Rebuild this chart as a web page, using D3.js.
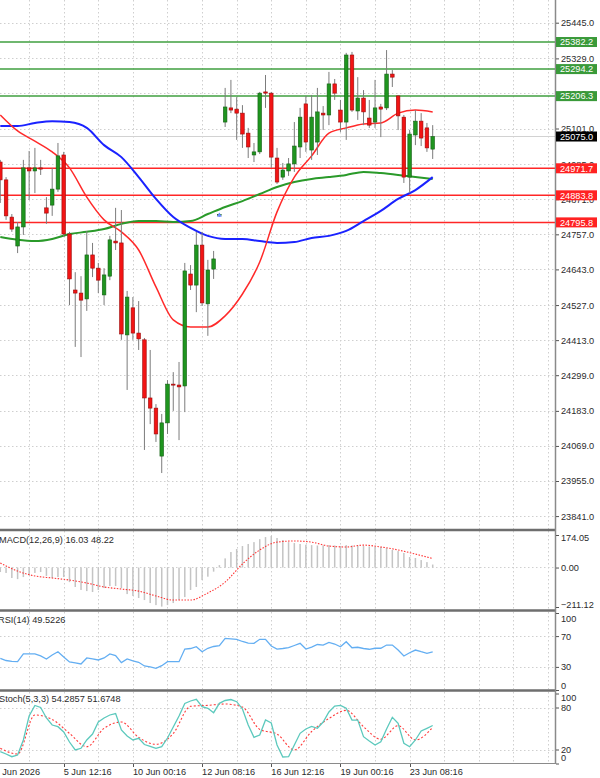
<!DOCTYPE html>
<html>
<head>
<meta charset="utf-8">
<script src="https://cdn.jsdelivr.net/npm/d3@7"></script>
<style>
  body { margin: 0; background: #fff; }
  svg text { font-family: "Liberation Sans", Arial, sans-serif; font-size: 9.2px; fill: #2b2b2b; }
</style>
</head>
<body>
<svg id="chart" width="600" height="778"></svg>
<script>
// ---- data ----
var timeLabels = ["1 Jun 2026", "5 Jun 12:16", "10 Jun 00:16", "12 Jun 08:16", "16 Jun 12:16", "19 Jun 00:16", "23 Jun 08:16"];
var timeIdx = [-1, 11, 23, 35, 47, 59, 71];

var open = [24992,24934,24813,24719,24781,24973,24963,24973,24843,24852,
  24904,25015,24758,24576,24566,24547,24690,24647,24560,24621,
  24735,24729,24430,24518,24436,24414,24225,24192,24036,24144,
  24270,24267,24264,24628,24592,24722,24531,24644,24820,25122,
  25168,25164,25151,25086,25015,25025,25220,25216,25005,24943,
  24963,24986,25041,25181,25031,25057,25151,25145,25246,25161,
  25122,25340,25158,25200,25135,25122,25171,25168,25278,25207,
  25138,24943,25080,25125,25103,25034];
var high = [24999,24943,24823,24797,24999,25028,25038,24999,24878,24973,
  25054,25025,24765,24634,24621,24768,24729,24664,24647,24752,
  24843,24836,24573,24553,24540,24420,24381,24205,24173,24283,
  24309,24342,24664,24657,24765,24765,24674,24703,24826,25233,
  25259,25203,25177,25103,25054,25220,25275,25220,25038,24989,
  25005,25122,25168,25207,25210,25233,25174,25285,25262,25194,
  25347,25350,25268,25226,25194,25259,25181,25356,25291,25210,
  25145,25096,25161,25151,25119,25112];
var low = [24859,24804,24765,24696,24755,24869,24891,24950,24791,24817,
  24895,24748,24527,24391,24358,24508,24618,24566,24527,24608,
  24706,24414,24251,24414,24381,24056,24140,24082,23981,24108,
  24183,24088,24179,24576,24504,24524,24427,24612,24814,25106,
  25151,25064,25038,25005,24992,25018,25168,24973,24921,24934,
  24947,24960,25005,25025,24999,25015,25096,25112,25194,25090,
  25064,25155,25129,25112,25103,25103,25073,25161,25236,25096,
  24924,24891,25047,25044,25025,25002];
var close = [24934,24817,24774,24781,24973,24963,24973,24969,24826,24904,
  25012,24758,24612,24566,24543,24690,24647,24608,24625,24739,
  24729,24433,24553,24436,24417,24225,24192,24108,24144,24270,
  24268,24261,24638,24592,24722,24534,24641,24677,24822,25171,
  25161,25151,25083,25041,25025,25216,25216,25008,24927,24966,
  24986,25044,25138,25057,25138,25155,25145,25246,25216,25122,
  25340,25161,25200,25155,25112,25168,25164,25278,25268,25142,
  24943,25083,25125,25070,25038,25075];

// moving averages, read every third bar
var maIdx = [0,3,6,9,12,15,18,21,24,27,30,33,36,39,42,45,48,51,54,57,60,63,66,69,72,75];
var maRed = [25145,25093,25060,25025,24973,24878,24804,24765,24706,24586,24479,24456,24456,
  24492,24563,24667,24830,24943,25012,25086,25103,25116,25119,25151,25161,25155];
var maBlue = [25109,25109,25119,25125,25122,25103,25047,25008,24943,24872,24813,24778,24752,
  24742,24742,24735,24729,24732,24745,24752,24768,24800,24833,24872,24901,24943];
var maGreen = [24748,24739,24735,24742,24758,24765,24774,24791,24800,24800,24797,24800,24823,
  24846,24865,24888,24911,24927,24937,24943,24950,24960,24956,24950,24943,24937];

var priceTicks = [25445,25329,25215,25101,24985,24871,24757,24643,24527,24413,24299,24183,24069,23955,23841];
var greenLevels = [25382.2, 25294.2, 25206.3];
var redLevels = [24971.7, 24883.8, 24795.8];
var lastPrice = 25075.0;

var macdHist = [-24,-29,-56,-62,-51,-40,-29,-24,-45,-56,
  -51,-51,-78,-104,-120,-126,-131,-120,-110,-99,
  -99,-110,-142,-152,-163,-174,-190,-201,-209,-201,
  -190,-174,-158,-120,-104,-67,-49,-22,13,49,
  83,99,115,126,136,152,163,169,158,147,
  136,131,126,122,120,118,118,120,118,115,
  120,118,118,115,113,112,110,104,94,88,
  78,56,51,40,29,16.03];
var macdSignal = [24,-19,-45,-56,-67,-83,-104,-115,-126,-152,-174,-174,-136,
  -78,19,94,136,142,136,115,110,120,110,94,72,48.22];
var macdTicks = [174.05, 0, -211.12];

var rsi = [41.2,38.3,37.3,36.8,46.8,46.8,46.8,44.2,40.3,45.5,
  49.7,42.9,36.4,35.1,33.8,41.6,40.3,39.0,41.6,46.8,
  44.8,35.5,40.3,37.7,36.0,31.2,29.9,28.2,31.6,36.8,
  36.8,36.8,53.2,53.9,56.2,49.7,54.2,56.5,57.5,67.1,
  66.5,65.8,63.0,61.0,60.6,65.8,65.8,57.1,53.2,53.9,
  54.9,57.8,60.6,53.2,55.8,59.1,58.4,61.9,59.7,56.2,
  62.7,54.9,55.5,53.9,52.9,54.2,54.2,58.4,58.4,51.9,
  44.2,48.4,51.9,49.7,47.7,49.5226];
var rsiTicks = [100, 70, 30, 0];

var stochK = [16.9,13.6,9.7,12.1,33.6,67.9,82.9,80.0,65.0,55.0,
  52.6,45.0,30.7,19.3,21.7,33.6,42.1,59.3,65.0,69.3,
  71.4,47.9,39.3,33.6,36.0,27.1,24.3,21.7,24.0,36.4,
  52.1,67.9,85.7,89.3,91.7,81.1,78.9,72.6,86.0,90.0,
  91.4,88.3,77.9,55.0,37.4,40.7,62.1,57.9,26.4,9.3,
  9.7,26.4,43.1,49.3,52.9,50.3,59.3,73.6,82.1,82.9,
  78.9,62.1,62.1,38.3,32.1,26.4,31.1,49.3,66.0,57.4,
  28.9,24.0,33.6,46.4,50.3,54.2857];
var stochD = [21.7,13.6,69.3,63.0,43.1,24.0,50.3,59.3,37.3,27.4,42.9,81.7,83.1,
  85.0,80.7,48.7,42.1,19.3,45.7,64.3,75.9,52.6,34.7,54.0,33.7,51.6748];
var stochTicks = [100, 80, 20, 0];

// ---- layout ----
var svg = d3.select("#chart");
var plotW = 555;
var panels = {
  price: [0, 529],
  macd: [531, 609],
  rsi: [612, 689],
  stoch: [692, 762]
};

var x = d3.scaleLinear().domain([0, 75]).range([0.3, 432.7]);
var y = d3.scaleLinear().domain([23799, 25518.8]).range([529, 0]);
var yM = d3.scaleLinear().domain([-211.12, 174.05]).range([607, 535]);
var yR = d3.scaleLinear().domain([0, 100]).range([690, 613]);
var yS = d3.scaleLinear().domain([0, 100]).range([763.5, 693.5]);

var defs = svg.append("defs");
Object.keys(panels).forEach(function(k) {
  defs.append("clipPath").attr("id", "clip-" + k)
    .append("rect").attr("x", 0).attr("y", panels[k][0])
    .attr("width", plotW).attr("height", panels[k][1] - panels[k][0]);
});

// grid
var gridCol = "#cfcfcf";
var gridIdx = d3.range(-1, 100, 6);
var grid = svg.append("g").attr("stroke", gridCol).attr("stroke-dasharray", "1.5,2.5").attr("stroke-width", 1);
Object.keys(panels).forEach(function(k) {
  grid.selectAll(null).data(gridIdx).enter().append("line")
    .attr("x1", function(d) { return Math.round(x(d)) + 0.5; })
    .attr("x2", function(d) { return Math.round(x(d)) + 0.5; })
    .attr("y1", panels[k][0]).attr("y2", panels[k][1]);
});
grid.selectAll(null).data(priceTicks).enter().append("line")
  .attr("x1", 0).attr("x2", plotW)
  .attr("y1", function(d) { return Math.round(y(d)) + 0.5; })
  .attr("y2", function(d) { return Math.round(y(d)) + 0.5; });
grid.append("line").attr("x1", 0).attr("x2", plotW).attr("y1", yM(0)).attr("y2", yM(0));
grid.selectAll(null).data([70, 30]).enter().append("line")
  .attr("x1", 0).attr("x2", plotW).attr("y1", function(d) { return Math.round(yR(d)) + 0.5; })
  .attr("y2", function(d) { return Math.round(yR(d)) + 0.5; });
grid.selectAll(null).data([80, 20]).enter().append("line")
  .attr("x1", 0).attr("x2", plotW).attr("y1", function(d) { return Math.round(yS(d)) + 0.5; })
  .attr("y2", function(d) { return Math.round(yS(d)) + 0.5; });

// ---- price panel ----
var gp = svg.append("g").attr("clip-path", "url(#clip-price)");

// bid line
gp.append("line").attr("x1", 0).attr("x2", plotW)
  .attr("y1", y(lastPrice)).attr("y2", y(lastPrice))
  .attr("stroke", "#d2d2d2").attr("stroke-width", 1);

// support / resistance levels
gp.selectAll(".glev").data(greenLevels).enter().append("line")
  .attr("x1", 0).attr("x2", plotW)
  .attr("y1", function(d) { return y(d); }).attr("y2", function(d) { return y(d); })
  .attr("stroke", "#3f9f3f").attr("stroke-width", 1.5);
gp.selectAll(".rlev").data(redLevels).enter().append("line")
  .attr("x1", 0).attr("x2", plotW)
  .attr("y1", function(d) { return y(d); }).attr("y2", function(d) { return y(d); })
  .attr("stroke", "#ff2626").attr("stroke-width", 1.5);

// moving averages
function maLine(vals) {
  return d3.line().curve(d3.curveMonotoneX)
    .x(function(d, i) { return x(maIdx[i]); })
    .y(function(d) { return y(d); })(vals);
}
gp.append("path").attr("d", maLine(maGreen)).attr("fill", "none").attr("stroke", "#2a9a2a").attr("stroke-width", 2);
gp.append("path").attr("d", maLine(maBlue)).attr("fill", "none").attr("stroke", "#1a22ff").attr("stroke-width", 2);
gp.append("path").attr("d", maLine(maRed)).attr("fill", "none").attr("stroke", "#ff2a2a").attr("stroke-width", 1.5);

// candles
var bars = open.map(function(o, i) { return { i: i, o: o, h: high[i], l: low[i], c: close[i] }; });
var bodyW = 3.6;
var cg = gp.selectAll(".candle").data(bars).enter().append("g");
cg.append("line")
  .attr("x1", function(d) { return x(d.i); }).attr("x2", function(d) { return x(d.i); })
  .attr("y1", function(d) { return y(d.h); }).attr("y2", function(d) { return y(d.l); })
  .attr("stroke", "#7c7c7c").attr("stroke-width", 1);
cg.append("rect")
  .attr("x", function(d) { return x(d.i) - bodyW / 2; })
  .attr("width", bodyW)
  .attr("y", function(d) { return y(Math.max(d.o, d.c)); })
  .attr("height", function(d) { return Math.max(1, Math.abs(y(d.o) - y(d.c))); })
  .attr("fill", function(d) { return d.c >= d.o ? "#1f951f" : "#f21414"; })
  .attr("stroke", function(d) { return d.c >= d.o ? "#145f14" : "#9a0a0a"; })
  .attr("stroke-width", 0.6);

// small trade arrow on bar 38
gp.append("path")
  .attr("d", d3.symbol().type(d3.symbolTriangle).size(10)())
  .attr("transform", "translate(" + x(38) + "," + (y(close[38]) + 1) + ")")
  .attr("fill", "#6f8cff");

// ---- MACD ----
var gm = svg.append("g").attr("clip-path", "url(#clip-macd)");
gm.selectAll("rect").data(macdHist).enter().append("rect")
  .attr("x", function(d, i) { return x(i) - 0.75; })
  .attr("width", 1.5)
  .attr("y", function(d) { return Math.min(yM(d), yM(0)); })
  .attr("height", function(d) { return Math.abs(yM(d) - yM(0)); })
  .attr("fill", "#c4c4c4");
gm.append("path")
  .attr("d", d3.line().curve(d3.curveMonotoneX)
    .x(function(d, i) { return x(maIdx[i]); }).y(function(d) { return yM(d); })(macdSignal))
  .attr("fill", "none").attr("stroke", "#ff3535").attr("stroke-width", 1.1).attr("stroke-dasharray", "1.5,1.5");

// ---- RSI ----
var gr = svg.append("g").attr("clip-path", "url(#clip-rsi)");
gr.append("path")
  .attr("d", d3.line().x(function(d, i) { return x(i); }).y(function(d) { return yR(d); })(rsi))
  .attr("fill", "none").attr("stroke", "#63aef2").attr("stroke-width", 1.3);

// ---- Stochastic ----
var gs = svg.append("g").attr("clip-path", "url(#clip-stoch)");
gs.append("path")
  .attr("d", d3.line().curve(d3.curveMonotoneX)
    .x(function(d, i) { return x(maIdx[i]); }).y(function(d) { return yS(d); })(stochD))
  .attr("fill", "none").attr("stroke", "#ff3a3a").attr("stroke-width", 1.1).attr("stroke-dasharray", "2,2");
gs.append("path")
  .attr("d", d3.line().x(function(d, i) { return x(i); }).y(function(d) { return yS(d); })(stochK))
  .attr("fill", "none").attr("stroke", "#5cc9bd").attr("stroke-width", 1.3);

// ---- separators and axis frame ----
var sepCol = "#6e6e6e";
[panels.macd[0] - 1, panels.rsi[0] - 1.5, panels.stoch[0] - 1.5].forEach(function(yy) {
  svg.append("line").attr("x1", 0).attr("x2", plotW + 1).attr("y1", yy).attr("y2", yy)
    .attr("stroke", sepCol).attr("stroke-width", 2.5);
});
svg.append("line").attr("x1", 0).attr("x2", plotW + 1).attr("y1", 763.5).attr("y2", 763.5)
  .attr("stroke", "#8a8a8a").attr("stroke-width", 1);
svg.append("line").attr("x1", plotW + 0.5).attr("x2", plotW + 0.5).attr("y1", 0).attr("y2", 764)
  .attr("stroke", "#8a8a8a").attr("stroke-width", 1.5);

// ---- right axes ----
function rightAxis(scale, ticks, fmt, shiftTop, shiftBot) {
  var g = svg.append("g").attr("transform", "translate(" + (plotW + 1) + ",0)")
    .call(d3.axisRight(scale).tickValues(ticks).tickFormat(d3.format(fmt)).tickSize(3).tickPadding(2));
  g.select(".domain").remove();
  g.selectAll(".tick line").attr("stroke", "#555");
  g.selectAll(".tick text").attr("font-size", null).attr("font-family", null).attr("fill", "#2b2b2b")
    .attr("transform", function(d) {
      var dom = scale.domain();
      if (d === dom[1]) return "translate(0," + shiftTop + ")";
      if (d === dom[0]) return "translate(0," + shiftBot + ")";
      return null;
    });
  g.attr("font-size", null).attr("font-family", null);
  return g;
}
rightAxis(y, priceTicks, ".1f", 0, 0);
rightAxis(yM, macdTicks, ".2f", 3, -2);
rightAxis(yR, rsiTicks, "d", 6, -4);
rightAxis(yS, stochTicks, "d", 4.5, -5.5);

// price label boxes
function levelBox(val, col) {
  var g = svg.append("g").attr("transform", "translate(" + (plotW + 1) + "," + y(val) + ")");
  g.append("rect").attr("x", 0).attr("y", -5).attr("width", 41).attr("height", 10).attr("fill", col);
  g.append("text").attr("x", 4).attr("dy", "0.35em").style("fill", "#fff").text(d3.format(".1f")(val));
}
greenLevels.forEach(function(v) { levelBox(v, "#3a9a3a"); });
redLevels.forEach(function(v) { levelBox(v, "#ff2222"); });
levelBox(lastPrice, "#000");

// ---- time axis ----
var tg = svg.append("g");
tg.selectAll("line").data(timeIdx).enter().append("line")
  .attr("x1", function(d) { return Math.round(x(d)) + 0.5; })
  .attr("x2", function(d) { return Math.round(x(d)) + 0.5; })
  .attr("y1", 764).attr("y2", 767).attr("stroke", "#555");
tg.selectAll("text").data(timeIdx).enter().append("text")
  .attr("x", function(d) { return x(d); })
  .attr("y", 775)
  .text(function(d, i) { return timeLabels[i]; });

// ---- indicator captions ----
svg.append("text").attr("x", -1).attr("y", 543).text("MACD(12,26,9) 16.03 48.22");
svg.append("text").attr("x", -2).attr("y", 623).text("RSI(14) 49.5226");
svg.append("text").attr("x", -1).attr("y", 702).text("Stoch(5,3,3) 54.2857 51.6748");
</script>
</body>
</html>
